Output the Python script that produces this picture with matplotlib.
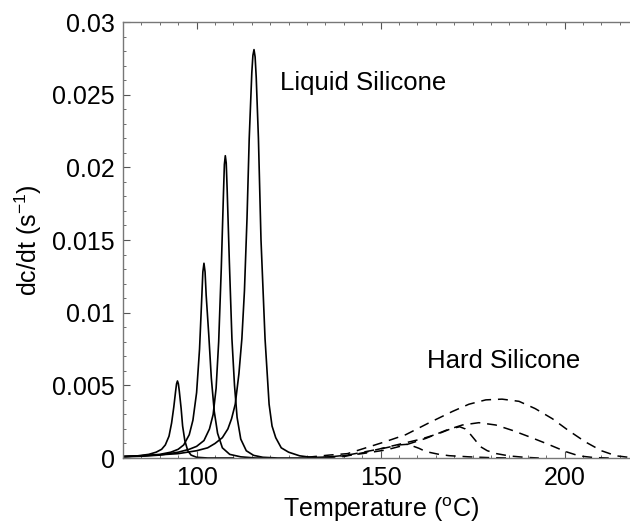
import matplotlib
matplotlib.use("Agg")
import matplotlib.pyplot as plt
from matplotlib.ticker import MultipleLocator, FixedLocator

plt.rcParams['font.family'] = ['Liberation Sans', 'DejaVu Sans']
plt.rcParams['mathtext.fontset'] = 'custom'
plt.rcParams['mathtext.rm'] = 'Liberation Sans'
plt.rcParams['mathtext.it'] = 'Liberation Sans:italic'

# ---- Liquid silicone (solid curves) ----
liq1_T = [80, 84, 87, 89, 90.5, 91.5, 92.5, 93.2, 93.8, 94.3, 94.55, 94.8, 95.05, 95.3, 95.8, 96.2, 96.8,
          97.6, 98.5, 100, 103, 110]
liq1_y = [0.0001, 0.00015, 0.00025, 0.0004, 0.0006, 0.0009, 0.0015, 0.0024, 0.0035, 0.0046, 0.0051, 0.0053,
          0.0051, 0.0046, 0.0034, 0.0022, 0.0012, 0.0005, 0.0002, 0.00005, 0.0, 0.0]

liq2_T = [80, 85, 90, 93, 95, 96.5, 98, 99, 100, 100.8, 101.4, 101.7, 102, 102.3, 102.6, 103.3, 104,
          104.8, 105.7, 107, 109, 112, 116, 120]
liq2_y = [0.0001, 0.00015, 0.00025, 0.0004, 0.0006, 0.0009, 0.0016, 0.0026, 0.0045, 0.0075, 0.0110,
          0.0128, 0.0134, 0.0128, 0.0112, 0.0085, 0.0055, 0.0032, 0.0017, 0.0007, 0.00025, 0.00008,
          0.0, 0.0]

liq3_T = [80, 85, 90, 95, 98, 100, 102, 103.5, 104.5, 105.3, 106, 106.7, 107.3, 107.55, 107.8, 108.05,
          108.3, 108.9, 109.6, 110.3, 111, 112, 113.5, 115.5, 118, 122, 130]
liq3_y = [0.00008, 0.00012, 0.0002, 0.0004, 0.0006, 0.0008, 0.0012, 0.0020, 0.0030, 0.0048, 0.0080,
          0.0130, 0.0182, 0.0202, 0.0208, 0.0203, 0.0185, 0.0135, 0.0082, 0.0050, 0.0028, 0.0013,
          0.0005, 0.00018, 0.00005, 0.0, 0.0]

liq4_T = [80, 85, 90, 95, 100, 103, 105, 107, 108.5, 109.5, 110.5, 111.5, 112.3, 113, 113.7, 114.3,
          115, 115.3, 115.6, 115.9, 116.2, 116.8, 117.5, 118.6, 119.7, 120.5, 121.5, 123, 125, 128,
          131, 135]
liq4_y = [0.0001, 0.00015, 0.00022, 0.0003, 0.0005, 0.0007, 0.0010, 0.0014, 0.0020, 0.0027, 0.0037,
          0.0058, 0.0082, 0.0115, 0.0165, 0.0220, 0.0265, 0.0277, 0.0281, 0.0276, 0.0262, 0.0220,
          0.0150, 0.0082, 0.0037, 0.0022, 0.0014, 0.0007, 0.0004, 0.00015, 0.00005, 0.0]

# ---- Hard silicone (dashed curves) ----
hard1_T = [132, 137, 141, 146, 151.4, 155, 157.7, 159, 160.4, 162.3, 165.9, 168.6, 174, 180, 185]
hard1_y = [0.00003, 0.0001, 0.0002, 0.00044, 0.0007, 0.0009, 0.00095, 0.0008, 0.00067, 0.00044,
           0.00025, 0.00016, 0.00008, 0.00002, 0.0]

hard2_T = [135, 140, 146, 151, 156, 161, 166, 169, 171.5, 173, 174.5, 175.8, 177, 179, 181.5, 185, 189, 193]
hard2_y = [0.00003, 0.0001, 0.0004, 0.0007, 0.0010, 0.0013, 0.0017, 0.0020, 0.00215, 0.0020, 0.0016,
           0.0012, 0.0008, 0.0005, 0.0003, 0.00014, 0.00005, 0.0]

hard3_T = [130, 138, 145, 151.4, 156.8, 162.3, 167.7, 172.2, 176.7, 181.3, 185.8, 190.3, 194.9, 200.3,
           204, 208, 212]
hard3_y = [0.00003, 0.0001, 0.0003, 0.00055, 0.0009, 0.00135, 0.0019, 0.00227, 0.00243, 0.00227,
           0.0019, 0.00147, 0.00101, 0.00044, 0.00014, 0.00003, 0.0]

hard4_T = [130, 136, 141, 146, 151, 156.8, 163, 169.5, 174, 178.6, 183, 187.6, 192, 196.7, 201, 205.7,
           210, 214, 218, 220]
hard4_y = [0.00005, 0.0002, 0.0003, 0.0007, 0.0011, 0.0016, 0.0024, 0.0032, 0.0037, 0.0040, 0.00405,
           0.0039, 0.0034, 0.0027, 0.0019, 0.0011, 0.0005, 0.00015, 0.00003, 0.0]

liquid = [(liq1_T, liq1_y), (liq2_T, liq2_y), (liq3_T, liq3_y), (liq4_T, liq4_y)]
hard = [(hard1_T, hard1_y), (hard2_T, hard2_y), (hard3_T, hard3_y), (hard4_T, hard4_y)]

x_ticks = [100, 150, 200]
y_ticks = [0, 0.005, 0.01, 0.015, 0.02, 0.025, 0.03]
y_tick_labels = ['0', '0.005', '0.01', '0.015', '0.02', '0.025', '0.03']

fig = plt.figure(figsize=(6.3, 5.26), dpi=100)
ax = fig.add_axes([123 / 630, 68 / 526, 515.2 / 630, 436 / 526])

for T, y in liquid:
    ax.plot(T, y, color='black', lw=1.2, solid_joinstyle='round')
for T, y in hard:
    ax.plot(T, y, color='black', lw=1.1, dashes=(6.5, 4.5))

ax.set_xlim(80, 220)
ax.set_ylim(0, 0.03)

ax.xaxis.set_major_locator(FixedLocator(x_ticks))
ax.xaxis.set_minor_locator(MultipleLocator(5))
ax.yaxis.set_major_locator(FixedLocator(y_ticks))
ax.set_yticklabels(y_tick_labels)
ax.yaxis.set_minor_locator(MultipleLocator(0.001))

ax.tick_params(which='both', direction='in', top=True, right=True, color='#555555')
ax.tick_params(which='major', length=5, width=0.8, labelsize=18, pad=6)
ax.tick_params(which='minor', length=2.5, width=0.6)

for s in ax.spines.values():
    s.set_color('#777777')
    s.set_linewidth(1.0)

ax.set_xlabel('Temperature ($^{\\rm o}$C)', fontsize=18, labelpad=4)
ax.set_ylabel('dc/dt (s$^{-1}$)', fontsize=18, labelpad=6)

ax.text(122.7, 0.0253, 'Liquid Silicone', fontsize=18.5, va='baseline', ha='left')
ax.text(162.5, 0.0062, 'Hard Silicone', fontsize=18.5, va='baseline', ha='left')

fig.savefig('out.png', dpi=100)
